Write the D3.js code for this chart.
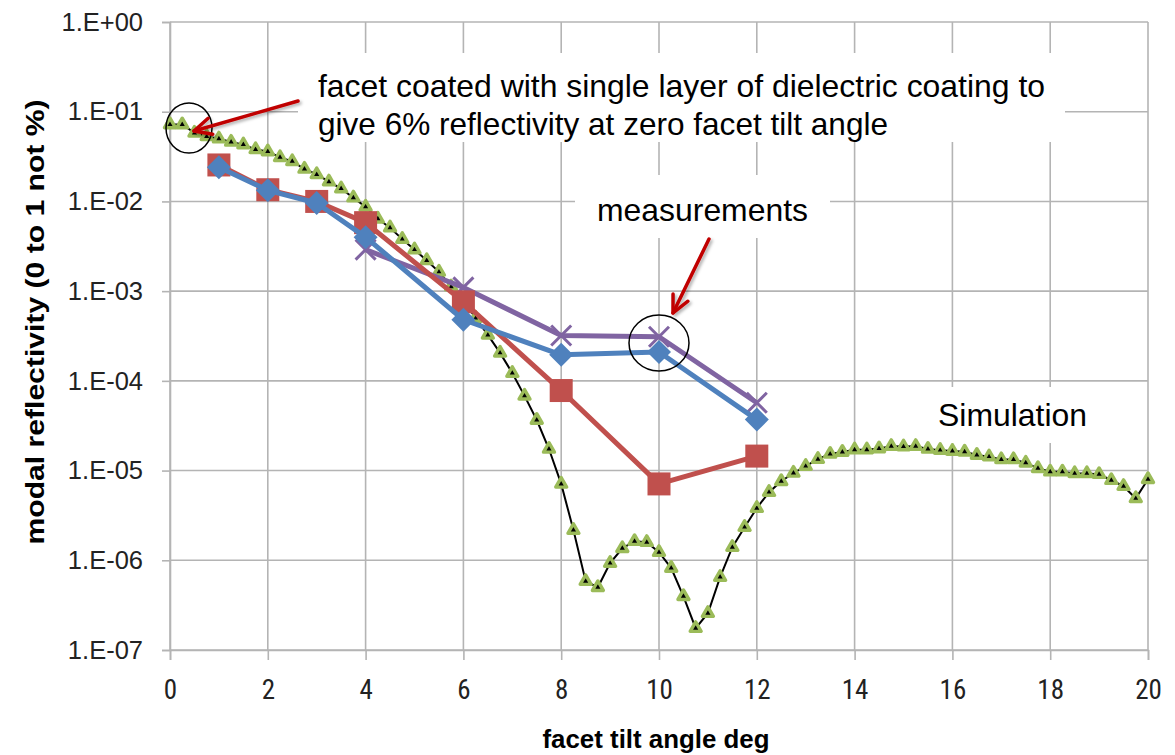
<!DOCTYPE html>
<html><head><meta charset="utf-8">
<script src="https://cdn.jsdelivr.net/npm/d3@7"></script>
<style>body{margin:0;background:#fff}</style>
</head><body>
<svg id="c" width="1175" height="755"></svg>
<script>
// ---------- data ----------
const xTicks = [0, 2, 4, 6, 8, 10, 12, 14, 16, 18, 20];
const yTicks = [1, 1e-1, 1e-2, 1e-3, 1e-4, 1e-5, 1e-6, 1e-7];
const yTickLabels = ["1.E+00", "1.E-01", "1.E-02", "1.E-03", "1.E-04", "1.E-05", "1.E-06", "1.E-07"];

const simAngle = [0,0.25,0.5,0.75,1,1.25,1.5,1.75,2,2.25,2.5,2.75,3,3.25,3.5,3.75,4,4.25,4.5,4.75,5,5.25,5.5,5.75,6,6.25,6.5,6.75,7,7.25,7.5,7.75,8,8.25,8.5,8.75,9,9.25,9.5,9.75,10,10.25,10.5,10.75,11,11.25,11.5,11.75,12,12.25,12.5,12.75,13,13.25,13.5,13.75,14,14.25,14.5,14.75,15,15.25,15.5,15.75,16,16.25,16.5,16.75,17,17.25,17.5,17.75,18,18.25,18.5,18.75,19,19.25,19.5,19.75,20];
const simValue = [7.2e-2,7.2e-2,5.8e-2,5.3e-2,5.0e-2,4.6e-2,4.3e-2,3.8e-2,3.6e-2,3.1e-2,2.8e-2,2.3e-2,2.0e-2,1.66e-2,1.39e-2,1.1e-2,8.7e-3,6.4e-3,5.1e-3,3.8e-3,2.9e-3,2.2e-3,1.64e-3,1.12e-3,8.0e-4,5.0e-4,3.25e-4,2.05e-4,1.22e-4,6.8e-5,3.66e-5,1.74e-5,7.1e-6,2.17e-6,5.85e-7,5.0e-7,9.3e-7,1.36e-6,1.63e-6,1.59e-6,1.23e-6,8.2e-7,3.97e-7,1.75e-7,2.57e-7,6.5e-7,1.40e-6,2.34e-6,3.81e-6,5.75e-6,7.6e-6,9.4e-6,1.12e-5,1.34e-5,1.53e-5,1.61e-5,1.71e-5,1.71e-5,1.76e-5,1.87e-5,1.85e-5,1.87e-5,1.74e-5,1.69e-5,1.65e-5,1.62e-5,1.49e-5,1.43e-5,1.33e-5,1.33e-5,1.22e-5,1.06e-5,9.7e-6,9.7e-6,9.3e-6,9.3e-6,9.1e-6,7.8e-6,6.7e-6,4.9e-6,8.0e-6];

const measAngle = [1, 2, 3, 4, 6, 8, 10, 12];
const blueValue = [2.4e-2, 1.33e-2, 9.6e-3, 4.0e-3, 4.8e-4, 1.95e-4, 2.1e-4, 3.7e-5];
const redValue  = [2.55e-2, 1.35e-2, 1.0e-2, 5.8e-3, 7.6e-4, 7.8e-5, 7.1e-6, 1.45e-5];
const purpleAngle = [4, 6, 8, 10, 12];
const purpleValue = [2.9e-3, 1.1e-3, 3.2e-4, 3.1e-4, 5.7e-5];

const xTitle = "facet tilt angle deg";
const yTitle = "modal reflectivity (0 to 1 not %)";
const note1 = ["facet coated with single layer of dielectric coating to", "give 6% reflectivity at zero facet tilt angle"];
const note2 = "measurements";
const note3 = "Simulation";

// ---------- chart ----------
const svg = d3.select("#c");
const x = d3.scaleLinear().domain([0, 20]).range([170, 1148]);
const y = d3.scaleLog().domain([1e-7, 1]).range([650, 22]);
const grid = "#b4b4b4";

const defs = svg.append("defs");
const f = defs.append("filter").attr("id","sh").attr("x","-20%").attr("y","-20%").attr("width","140%").attr("height","140%");
f.append("feDropShadow").attr("dx",2).attr("dy",2).attr("stdDeviation",1.5).attr("flood-color","#000").attr("flood-opacity",0.3);

// gridlines
svg.append("g").selectAll("line").data(xTicks).join("line")
  .attr("x1", d => x(d)).attr("x2", d => x(d)).attr("y1", y(1)).attr("y2", y(1e-7))
  .attr("stroke", grid).attr("stroke-width", 1.6);
svg.append("g").selectAll("line").data(yTicks).join("line")
  .attr("x1", x(0)).attr("x2", x(20)).attr("y1", d => y(d)).attr("y2", d => y(d))
  .attr("stroke", grid).attr("stroke-width", 1.6);

// axes
const yAxis = svg.append("g").attr("transform", `translate(${x(0)},0)`)
  .call(d3.axisLeft(y).tickValues(yTicks).tickFormat((d,i) => yTickLabels[i]).tickSize(8).tickPadding(19));
const xAxis = svg.append("g").attr("transform", `translate(0,${y(1e-7)})`)
  .call(d3.axisBottom(x).tickValues(xTicks).tickFormat(d => d).tickSize(10).tickPadding(20));
[yAxis, xAxis].forEach(a => {
  a.select(".domain").attr("stroke", grid).attr("stroke-width", 1.6);
  a.selectAll(".tick line").attr("stroke", grid).attr("stroke-width", 1.6);
});
yAxis.selectAll(".tick text").attr("font-family", "'Liberation Sans', Arial, sans-serif").attr("font-size", 25.5).attr("fill", "#222");
xAxis.selectAll(".tick text").attr("font-family", "'Liberation Sans Narrow', 'Roboto Condensed', 'Liberation Sans', sans-serif").attr("font-size", 27).attr("fill", "#222");

// text boxes (white backgrounds)
svg.append("rect").attr("x", 298).attr("y", 53).attr("width", 767).attr("height", 89).attr("fill", "#fff");
svg.append("rect").attr("x", 575).attr("y", 175).attr("width", 255).attr("height", 63).attr("fill", "#fff");
svg.append("rect").attr("x", 918).attr("y", 387).attr("width", 190).attr("height", 56).attr("fill", "#fff");

// simulation
const line = d3.line().x(d => x(d[0])).y(d => y(d[1]));
const simData = simAngle.map((a, i) => [a, simValue[i]]);
svg.append("path").datum(simData).attr("d", line).attr("fill", "none").attr("stroke", "#000").attr("stroke-width", 2);
svg.append("g").selectAll("path").data(simData).join("path")
  .attr("d", d3.symbol(d3.symbolTriangle, 52))
  .attr("transform", d => `translate(${x(d[0])},${y(d[1])})`)
  .attr("fill", "#000").attr("stroke", "#9bbb59").attr("stroke-width", 3.4).attr("stroke-linejoin", "round");

// purple
const pData = purpleAngle.map((a, i) => [a, purpleValue[i]]);
svg.append("path").datum(pData).attr("d", line).attr("fill", "none").attr("stroke", "#8064a2").attr("stroke-width", 5).attr("stroke-linejoin", "round");
svg.append("g").selectAll("path").data(pData).join("path")
  .attr("d", "M-10,-10L10,10M-10,10L10,-10")
  .attr("transform", d => `translate(${x(d[0])},${y(d[1])})`)
  .attr("stroke", "#8064a2").attr("stroke-width", 3).attr("fill", "none");

// red
const rData = measAngle.map((a, i) => [a, redValue[i]]);
svg.append("path").datum(rData).attr("d", line).attr("fill", "none").attr("stroke", "#c0504d").attr("stroke-width", 5).attr("stroke-linejoin", "round");
svg.append("g").selectAll("rect").data(rData).join("rect")
  .attr("x", d => x(d[0]) - 11.5).attr("y", d => y(d[1]) - 11.5).attr("width", 23).attr("height", 23)
  .attr("fill", "#c0504d");

// blue
const bData = measAngle.map((a, i) => [a, blueValue[i]]);
svg.append("path").datum(bData).attr("d", line).attr("fill", "none").attr("stroke", "#4f81bd").attr("stroke-width", 5).attr("stroke-linejoin", "round");
svg.append("g").selectAll("path").data(bData).join("path")
  .attr("d", "M0,-12L12,0L0,12L-12,0Z")
  .attr("transform", d => `translate(${x(d[0])},${y(d[1])})`)
  .attr("fill", "#4f81bd");

// annotations
const tf = "'Liberation Sans', Arial, sans-serif";
const t1 = svg.append("text").attr("font-family", tf).attr("font-size", 32).attr("fill", "#000");
t1.append("tspan").attr("x", 318).attr("y", 97).attr("textLength", 727).attr("lengthAdjust", "spacingAndGlyphs").text(note1[0]);
t1.append("tspan").attr("x", 318).attr("y", 135).attr("textLength", 570).attr("lengthAdjust", "spacingAndGlyphs").text(note1[1]);
svg.append("text").attr("x", 597).attr("y", 221).attr("font-family", tf).attr("font-size", 32)
  .attr("textLength", 211).attr("lengthAdjust", "spacingAndGlyphs").text(note2);
svg.append("text").attr("x", 938).attr("y", 426).attr("font-family", tf).attr("font-size", 32)
  .attr("textLength", 149).attr("lengthAdjust", "spacingAndGlyphs").text(note3);

// ellipses
svg.append("ellipse").attr("cx", 189).attr("cy", 128).attr("rx", 23).attr("ry", 25).attr("fill", "none").attr("stroke", "#000").attr("stroke-width", 1.5);
svg.append("ellipse").attr("cx", 659).attr("cy", 343).attr("rx", 30).attr("ry", 28).attr("fill", "none").attr("stroke", "#000").attr("stroke-width", 1.5);

// arrows
function arrow(x1, y1, x2, y2) {
  const g = svg.append("g").attr("filter", "url(#sh)");
  const ang = Math.atan2(y2 - y1, x2 - x1), L = 19, sp = 0.45;
  g.append("line").attr("x1", x1).attr("y1", y1).attr("x2", x2).attr("y2", y2)
    .attr("stroke", "#c00000").attr("stroke-width", 3.5).attr("stroke-linecap", "round");
  g.append("path").attr("d", `M${x2 - L*Math.cos(ang - sp)},${y2 - L*Math.sin(ang - sp)}L${x2},${y2}L${x2 - L*Math.cos(ang + sp)},${y2 - L*Math.sin(ang + sp)}`)
    .attr("fill", "none").attr("stroke", "#c00000").attr("stroke-width", 3.5).attr("stroke-linecap", "round").attr("stroke-linejoin", "round");
}
arrow(298, 101, 194, 131);
arrow(709, 239, 673, 313);

// axis titles
svg.append("text").attr("x", 656).attr("y", 748).attr("text-anchor", "middle")
  .attr("font-family", "'Liberation Sans Narrow', 'Liberation Sans', sans-serif").attr("font-weight", "bold").attr("font-size", 25)
  .attr("textLength", 227).attr("lengthAdjust", "spacingAndGlyphs").text(xTitle);
svg.append("text").attr("transform", "translate(44,322) rotate(-90)").attr("text-anchor", "middle")
  .attr("font-family", "'Liberation Sans Narrow', 'Liberation Sans', sans-serif").attr("font-weight", "bold").attr("font-size", 25)
  .attr("textLength", 445).attr("lengthAdjust", "spacingAndGlyphs").text(yTitle);
</script>
</body></html>
